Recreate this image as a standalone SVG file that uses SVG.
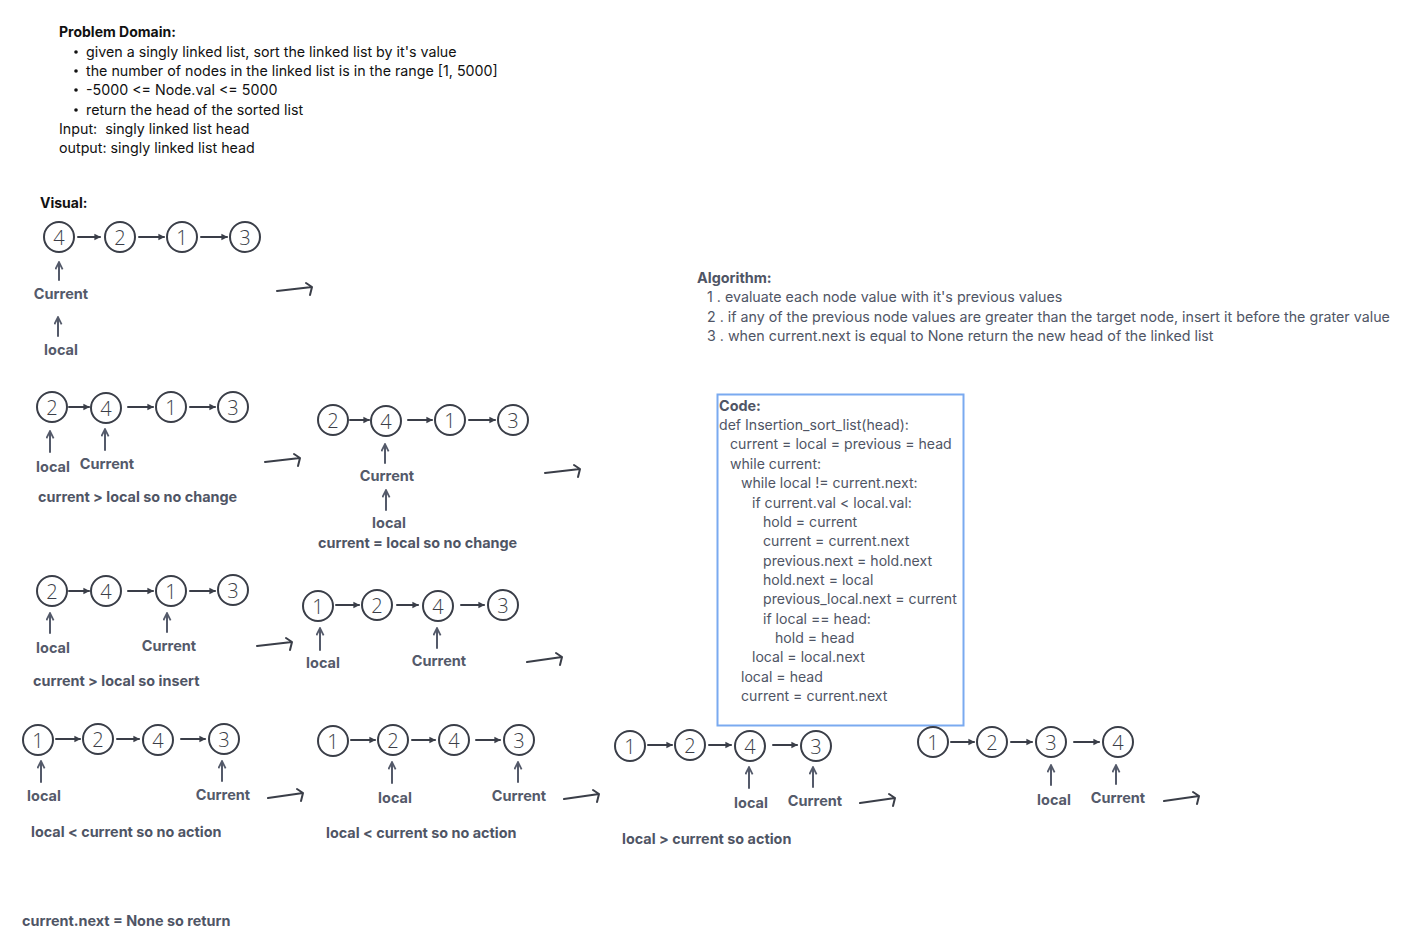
<svg xmlns="http://www.w3.org/2000/svg" width="1426" height="948" viewBox="0 0 1426 948">
<style>
text{font-family:Inter,"Liberation Sans",sans-serif}
.h{font-size:14px;font-weight:700;fill:#111}
.t{font-size:14.25px;fill:#111}
.g{font-size:14.1px;fill:#4f5565}
.al{font-size:14.25px;fill:#4f5565}
.gb{font-size:14.4px;font-weight:700;fill:#4f5565}
.lb{font-size:14.5px;font-weight:700;fill:#545a6a;text-anchor:middle}
.n circle{fill:#fff;stroke:#3a3e48;stroke-width:2}
.n text{font-family:"Open Sans","Liberation Sans",sans-serif;font-size:20px;font-weight:300;fill:#3a3e48;text-anchor:middle;dominant-baseline:central}
.c{fill:none;stroke:#3a3e48;stroke-width:2;stroke-linecap:round}
.ua{fill:none;stroke:#545a6a;stroke-width:2;stroke-linecap:round}
.tr{fill:none;stroke:#3a3e48;stroke-width:2;stroke-linecap:round;stroke-linejoin:round}
</style>
<defs>
<marker id="ah" viewBox="0 0 10 10" refX="8" refY="5" markerWidth="4" markerHeight="4" orient="auto"><path d="M1,1 L9,5 L1,9 Z" fill="#3a3e48"/></marker>
<marker id="uh" viewBox="0 0 10 10" refX="8" refY="5" markerWidth="4.5" markerHeight="4.5" orient="auto"><path d="M1,1 L9,5 L1,9" fill="none" stroke="#545a6a" stroke-width="2"/></marker>
</defs>

<g id="problem">
<text class="h" x="59" y="37">Problem Domain:</text>
<circle cx="76" cy="52" r="1.8" fill="#111"/><text class="t" x="86" y="57">given a singly linked list, sort the linked list by it's value</text>
<circle cx="76" cy="71" r="1.8" fill="#111"/><text class="t" x="86" y="76">the number of nodes in the linked list is in the range [1, 5000]</text>
<circle cx="76" cy="90" r="1.8" fill="#111"/><text class="t" x="86" y="95">-5000 &lt;= Node.val &lt;= 5000</text>
<circle cx="76" cy="110" r="1.8" fill="#111"/><text class="t" x="86" y="115">return the head of the sorted list</text>
<text class="t" x="59" y="134" xml:space="preserve">Input:  singly linked list head</text>
<text class="t" x="59" y="153">output: singly linked list head</text>
<text class="h" x="40" y="208">Visual:</text>
</g>

<g id="algorithm">
<text class="gb" x="697" y="283">Algorithm:</text>
<text class="al" x="707" y="302">1 . evaluate each node value with it's previous values</text>
<text class="al" x="707" y="322">2 . if any of the previous node values are greater than the target node, insert it before the grater value</text>
<text class="al" x="707" y="341">3 . when current.next is equal to None return the new head of the linked list</text>
</g>

<g id="code">
<rect x="717.5" y="394.5" width="246" height="331" fill="none" stroke="#7aaaf0" stroke-width="2"/>
<text class="gb" x="719" y="411">Code:</text>
<text class="g" x="719" y="430">def Insertion_sort_list(head):</text>
<text class="g" x="730" y="449">current = local = previous = head</text>
<text class="g" x="730" y="469">while current:</text>
<text class="g" x="741" y="488">while local != current.next:</text>
<text class="g" x="752" y="508">if current.val &lt; local.val:</text>
<text class="g" x="763" y="527">hold = current</text>
<text class="g" x="763" y="546">current = current.next</text>
<text class="g" x="763" y="566">previous.next = hold.next</text>
<text class="g" x="763" y="585">hold.next = local</text>
<text class="g" x="763" y="604">previous_local.next = current</text>
<text class="g" x="763" y="624">if local == head:</text>
<text class="g" x="775" y="643">hold = head</text>
<text class="g" x="752" y="662">local = local.next</text>
<text class="g" x="741" y="682">local = head</text>
<text class="g" x="741" y="701">current = current.next</text>
</g>

<!-- list 1 -->
<g id="l1n1" class="n"><circle cx="59" cy="237" r="15"/><text x="59" y="237">4</text></g>
<g id="l1n2" class="n"><circle cx="120" cy="237" r="15"/><text x="120" y="237">2</text></g>
<g id="l1n3" class="n"><circle cx="182" cy="237" r="15"/><text x="182" y="237">1</text></g>
<g id="l1n4" class="n"><circle cx="245" cy="237" r="15"/><text x="245" y="237">3</text></g>
<!-- list 2 -->
<g id="l2n1" class="n"><circle cx="52" cy="407" r="15"/><text x="52" y="407">2</text></g>
<g id="l2n2" class="n"><circle cx="106" cy="408" r="15"/><text x="106" y="408">4</text></g>
<g id="l2n3" class="n"><circle cx="171" cy="407" r="15"/><text x="171" y="407">1</text></g>
<g id="l2n4" class="n"><circle cx="233" cy="407" r="15"/><text x="233" y="407">3</text></g>
<!-- list 3 -->
<g id="l3n1" class="n"><circle cx="333" cy="420" r="15"/><text x="333" y="420">2</text></g>
<g id="l3n2" class="n"><circle cx="386" cy="421" r="15"/><text x="386" y="421">4</text></g>
<g id="l3n3" class="n"><circle cx="450" cy="420" r="15"/><text x="450" y="420">1</text></g>
<g id="l3n4" class="n"><circle cx="513" cy="420" r="15"/><text x="513" y="420">3</text></g>
<!-- list 4 -->
<g id="l4n1" class="n"><circle cx="52" cy="591" r="15"/><text x="52" y="591">2</text></g>
<g id="l4n2" class="n"><circle cx="106" cy="591" r="15"/><text x="106" y="591">4</text></g>
<g id="l4n3" class="n"><circle cx="171" cy="591" r="15"/><text x="171" y="591">1</text></g>
<g id="l4n4" class="n"><circle cx="233" cy="590" r="15"/><text x="233" y="590">3</text></g>
<!-- list 5 -->
<g id="l5n1" class="n"><circle cx="318" cy="606" r="15"/><text x="318" y="606">1</text></g>
<g id="l5n2" class="n"><circle cx="377" cy="605" r="15"/><text x="377" y="605">2</text></g>
<g id="l5n3" class="n"><circle cx="438" cy="606" r="15"/><text x="438" y="606">4</text></g>
<g id="l5n4" class="n"><circle cx="503" cy="605" r="15"/><text x="503" y="605">3</text></g>
<!-- list 6 -->
<g id="l6n1" class="n"><circle cx="38" cy="740" r="15"/><text x="38" y="740">1</text></g>
<g id="l6n2" class="n"><circle cx="98" cy="739" r="15"/><text x="98" y="739">2</text></g>
<g id="l6n3" class="n"><circle cx="158" cy="740" r="15"/><text x="158" y="740">4</text></g>
<g id="l6n4" class="n"><circle cx="224" cy="739" r="15"/><text x="224" y="739">3</text></g>
<!-- list 7 -->
<g id="l7n1" class="n"><circle cx="333" cy="741" r="15"/><text x="333" y="741">1</text></g>
<g id="l7n2" class="n"><circle cx="393" cy="740" r="15"/><text x="393" y="740">2</text></g>
<g id="l7n3" class="n"><circle cx="454" cy="740" r="15"/><text x="454" y="740">4</text></g>
<g id="l7n4" class="n"><circle cx="519" cy="740" r="15"/><text x="519" y="740">3</text></g>
<!-- list 8 -->
<g id="l8n1" class="n"><circle cx="630" cy="746" r="15"/><text x="630" y="746">1</text></g>
<g id="l8n2" class="n"><circle cx="690" cy="745" r="15"/><text x="690" y="745">2</text></g>
<g id="l8n3" class="n"><circle cx="750" cy="746" r="15"/><text x="750" y="746">4</text></g>
<g id="l8n4" class="n"><circle cx="816" cy="746" r="15"/><text x="816" y="746">3</text></g>
<!-- list 9 -->
<g id="l9n1" class="n"><circle cx="933" cy="742" r="15"/><text x="933" y="742">1</text></g>
<g id="l9n2" class="n"><circle cx="992" cy="742" r="15"/><text x="992" y="742">2</text></g>
<g id="l9n3" class="n"><circle cx="1051" cy="742" r="15"/><text x="1051" y="742">3</text></g>
<g id="l9n4" class="n"><circle cx="1118" cy="742" r="15"/><text x="1118" y="742">4</text></g>

<g id="connectors">
<path class="c" marker-end="url(#ah)" d="M78,237 L100,237"/>
<path class="c" marker-end="url(#ah)" d="M139,237 L164,237"/>
<path class="c" marker-end="url(#ah)" d="M201,237 L227,237"/>

<path class="c" marker-end="url(#ah)" d="M69,407 L89,407"/>
<path class="c" marker-end="url(#ah)" d="M128,407 L153,407"/>
<path class="c" marker-end="url(#ah)" d="M190,407 L215,407"/>

<path class="c" marker-end="url(#ah)" d="M350,420 L369,420"/>
<path class="c" marker-end="url(#ah)" d="M408,420 L432,420"/>
<path class="c" marker-end="url(#ah)" d="M469,420 L495,420"/>

<path class="c" marker-end="url(#ah)" d="M69,591 L89,591"/>
<path class="c" marker-end="url(#ah)" d="M128,591 L153,591"/>
<path class="c" marker-end="url(#ah)" d="M190,591 L215,591"/>

<path class="c" marker-end="url(#ah)" d="M336,605 L359,605"/>
<path class="c" marker-end="url(#ah)" d="M397,605 L418,605"/>
<path class="c" marker-end="url(#ah)" d="M461,605 L484,605"/>

<path class="c" marker-end="url(#ah)" d="M56,739 L80,739"/>
<path class="c" marker-end="url(#ah)" d="M117,739 L139,739"/>
<path class="c" marker-end="url(#ah)" d="M181,739 L205,739"/>

<path class="c" marker-end="url(#ah)" d="M351,740 L375,740"/>
<path class="c" marker-end="url(#ah)" d="M412,740 L435,740"/>
<path class="c" marker-end="url(#ah)" d="M476,740 L500,740"/>

<path class="c" marker-end="url(#ah)" d="M648,745 L672,745"/>
<path class="c" marker-end="url(#ah)" d="M709,745 L731,745"/>
<path class="c" marker-end="url(#ah)" d="M773,745 L797,745"/>

<path class="c" marker-end="url(#ah)" d="M951,742 L974,742"/>
<path class="c" marker-end="url(#ah)" d="M1011,742 L1032,742"/>
<path class="c" marker-end="url(#ah)" d="M1074,742 L1099,742"/>

<!-- pointer arrows -->
<path class="ua" marker-end="url(#uh)" d="M59,280 L59,263"/>
<path class="ua" marker-end="url(#uh)" d="M58,336 L58,318"/>
<path class="ua" marker-end="url(#uh)" d="M50,452 L50,432"/>
<path class="ua" marker-end="url(#uh)" d="M105,450 L105,430"/>
<path class="ua" marker-end="url(#uh)" d="M385,463 L385,445"/>
<path class="ua" marker-end="url(#uh)" d="M386,510 L386,491"/>
<path class="ua" marker-end="url(#uh)" d="M50,633 L50,614"/>
<path class="ua" marker-end="url(#uh)" d="M167,632 L167,614"/>
<path class="ua" marker-end="url(#uh)" d="M320,650 L320,629"/>
<path class="ua" marker-end="url(#uh)" d="M437,648 L437,629"/>
<path class="ua" marker-end="url(#uh)" d="M41,782 L41,762"/>
<path class="ua" marker-end="url(#uh)" d="M222,781 L222,762"/>
<path class="ua" marker-end="url(#uh)" d="M392,783 L392,763"/>
<path class="ua" marker-end="url(#uh)" d="M518,782 L518,763"/>
<path class="ua" marker-end="url(#uh)" d="M749,788 L749,768"/>
<path class="ua" marker-end="url(#uh)" d="M813,787 L813,768"/>
<path class="ua" marker-end="url(#uh)" d="M1051,785 L1051,766"/>
<path class="ua" marker-end="url(#uh)" d="M1116,784 L1116,766"/>

<!-- transition arrows -->
<path class="tr" d="M277,291 L312,287 M306,283 L312,287 L310,295"/>
<path class="tr" d="M265,462 L300,458 M294,454 L300,458 L298,466"/>
<path class="tr" d="M545,473 L580,469 M574,465 L580,469 L578,477"/>
<path class="tr" d="M257,646 L292,642 M286,638 L292,642 L290,650"/>
<path class="tr" d="M527,662 L562,657 M556,653 L562,657 L560,665"/>
<path class="tr" d="M268,798 L303,793 M297,789 L303,793 L301,801"/>
<path class="tr" d="M564,799 L599,794 M593,790 L599,794 L597,802"/>
<path class="tr" d="M860,803 L895,798 M889,794 L895,798 L893,806"/>
<path class="tr" d="M1164,801 L1199,796 M1193,792 L1199,796 L1197,804"/>
</g>

<g id="labels">
<text class="lb" x="61" y="299">Current</text>
<text class="lb" x="61" y="355">local</text>
<text class="lb" x="53" y="472">local</text>
<text class="lb" x="107" y="469">Current</text>
<text class="gb" x="38" y="502">current &gt; local so no change</text>
<text class="lb" x="387" y="481">Current</text>
<text class="lb" x="389" y="528">local</text>
<text class="gb" x="318" y="548">current = local so no change</text>
<text class="lb" x="53" y="653">local</text>
<text class="lb" x="169" y="651">Current</text>
<text class="gb" x="33" y="686">current &gt; local so insert</text>
<text class="lb" x="323" y="668">local</text>
<text class="lb" x="439" y="666">Current</text>
<text class="lb" x="44" y="801">local</text>
<text class="lb" x="223" y="800">Current</text>
<text class="gb" x="31" y="837">local &lt; current so no action</text>
<text class="lb" x="395" y="803">local</text>
<text class="lb" x="519" y="801">Current</text>
<text class="gb" x="326" y="838">local &lt; current so no action</text>
<text class="lb" x="751" y="808">local</text>
<text class="lb" x="815" y="806">Current</text>
<text class="gb" x="622" y="844">local &gt; current so action</text>
<text class="lb" x="1054" y="805">local</text>
<text class="lb" x="1118" y="803">Current</text>
<text class="gb" x="22" y="926">current.next = None so return</text>
</g>
</svg>
